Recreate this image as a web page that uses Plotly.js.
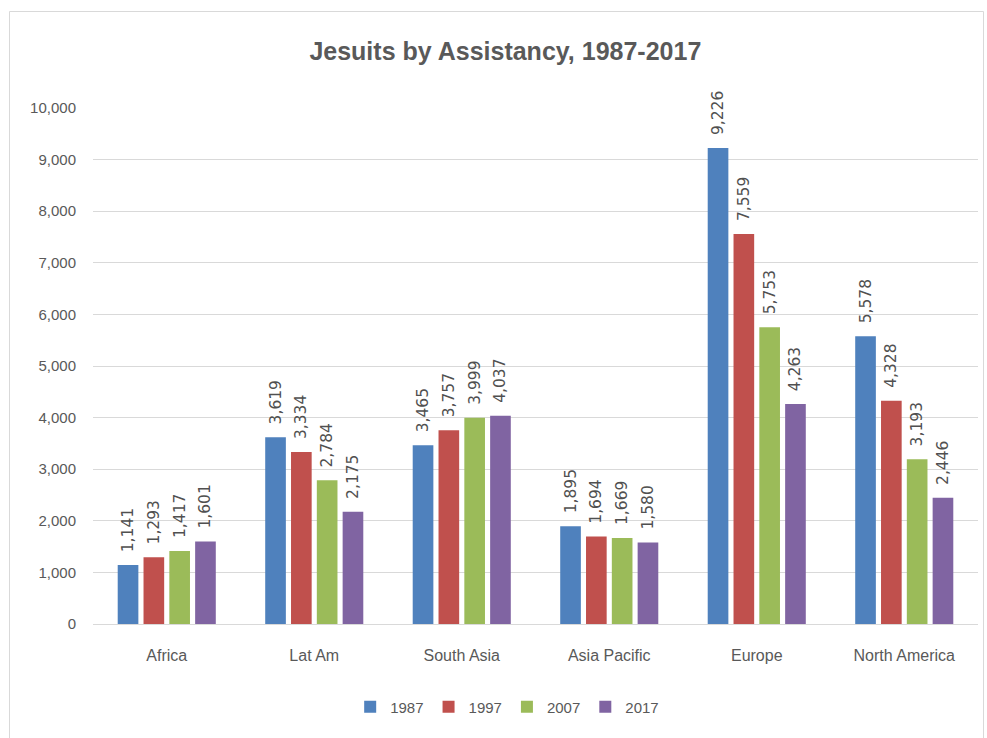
<!DOCTYPE html>
<html>
<head>
<meta charset="utf-8">
<script src="https://cdn.plot.ly/plotly-3.0.1.min.js"></script>
<style>
html,body{margin:0;padding:0;background:#fff;}
#chart{width:987px;height:738px;}
</style>
</head>
<body>
<div id="chart"></div>
<script>
const categories = ["Africa", "Lat Am", "South Asia", "Asia Pacific", "Europe", "North America"];
const seriesNames = ["1987", "1997", "2007", "2017"];
const v1987 = [1141, 3619, 3465, 1895, 9226, 5578];
const v1997 = [1293, 3334, 3757, 1694, 7559, 4328];
const v2007 = [1417, 2784, 3999, 1669, 5753, 3193];
const v2017 = [1601, 2175, 4037, 1580, 4263, 2446];
const colors = ["#4F81BD", "#C0504D", "#9BBB59", "#8064A2"];
const tickVals = [0,1000,2000,3000,4000,5000,6000,7000,8000,9000,10000];
const tickText = ["0","1,000","2,000","3,000","4,000","5,000","6,000","7,000","8,000","9,000","10,000"];

const FONT = "Liberation Sans Narrow, Liberation Sans, Arial, sans-serif";
const allVals = [v1987, v1997, v2007, v2017];
const fmt = v => "\u00a0\u00a0" + v.toLocaleString("en-US");

const traces = allVals.map((vals, i) => ({
  type: "bar",
  name: seriesNames[i],
  x: categories,
  y: vals,
  marker: {color: colors[i]},
  text: vals.map(fmt),
  textposition: "outside",
  textangle: -90,
  constraintext: "none",
  textfont: {family: "DejaVu Sans, sans-serif", size: 15.5, color: "#505050"},
  cliponaxis: false,
  hoverinfo: "none"
}));

const pw = 885, ph = 516, ml = 93, mt = 108;
const layout = {
  width: 987, height: 738,
  margin: {l: ml, r: 987 - ml - pw, t: mt, b: 738 - mt - ph},
  paper_bgcolor: "#ffffff",
  plot_bgcolor: "#ffffff",
  barmode: "group",
  bargap: 0.3,
  bargroupgap: 0.2,
  title: {
    text: "<b>Jesuits by Assistancy, 1987-2017</b>",
    font: {family: FONT, size: 25, color: "#595959"},
    x: 0.512, xanchor: "center", y: 0.93, yanchor: "middle"
  },
  xaxis: {
    type: "category",
    showgrid: false,
    showline: true, linecolor: "#d9d9d9", linewidth: 1,
    ticks: "",
    tickfont: {family: FONT, size: 16, color: "#595959"},
    ticklabelstandoff: 17
  },
  yaxis: {
    range: [0, 10000],
    tickvals: tickVals,
    ticktext: tickText,
    showgrid: true, gridcolor: "#d9d9d9", gridwidth: 1,
    zeroline: false,
    showline: false,
    ticks: "",
    tickfont: {family: FONT, size: 15, color: "#595959"},
    ticklabelstandoff: 16
  },
  legend: {
    orientation: "h",
    x: 0.468, xanchor: "center",
    y: -0.161, yanchor: "middle",
    font: {family: FONT, size: 15, color: "#595959"},
    itemwidth: 30,
    traceorder: "normal"
  },
  shapes: [{
    type: "rect", xref: "paper", yref: "paper",
    x0: (9.5 - ml) / pw, x1: (983.5 - ml) / pw,
    y0: -(745 - mt - ph) / ph, y1: (mt + ph - 11.5) / ph,
    line: {color: "#d9d9d9", width: 1},
    fillcolor: "rgba(0,0,0,0)",
    layer: "below"
  }],
  showlegend: true
};

Plotly.newPlot("chart", traces, layout, {displayModeBar: false, staticPlot: true});
</script>
</body>
</html>
